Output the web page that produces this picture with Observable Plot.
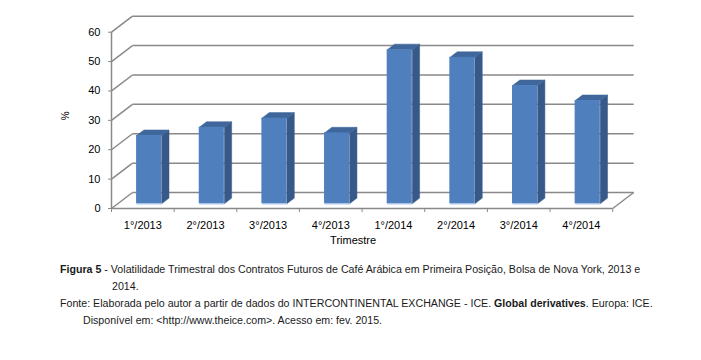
<!DOCTYPE html>
<html><head><meta charset="utf-8">
<script src="https://cdn.jsdelivr.net/npm/d3@7"></script>
<script src="https://cdn.jsdelivr.net/npm/@observablehq/plot@0.6"></script>
<style>
body{margin:0;background:#fff;}
#wrap{position:relative;width:701px;height:360px;overflow:hidden;}
.cap{position:absolute;font-family:"Liberation Sans",Arial,sans-serif;font-size:10.65px;line-height:14px;color:#1a1a1a;white-space:nowrap;}
</style>
</head><body>
<div id="wrap"><div id="chart"></div><div id="caption"></div></div>
<script>
// ---- data ----
const categories = ["1°/2013","2°/2013","3°/2013","4°/2013","1°/2014","2°/2014","3°/2014","4°/2014"];
const values = [23.2, 26.0, 29.1, 24.1, 52.4, 49.8, 40.2, 35.1];
const yTicks = [0, 10, 20, 30, 40, 50, 60];
const yLabel = "%";
const xLabel = "Trimestre";
const captionLines = [
  '<b>Figura 5</b> - Volatilidade Trimestral dos Contratos Futuros de Café Arábica em Primeira Posição, Bolsa de Nova York, 2013 e',
  '2014.',
  'Fonte: Elaborada pelo autor a partir de dados do INTERCONTINENTAL EXCHANGE - ICE. <b>Global derivatives</b>. Europa: ICE.',
  'Disponível em: &lt;http://www.theice.com&gt;. Acesso em: fev. 2015.'
];

// ---- 3D geometry (in scale units) ----
const n = categories.length;
const DX = 0.335, DY = 5.44;      // full depth offset
const dz = 0.3, bd = 0.35;         // bar depth position and thickness
const gridColor = "#898989";
const frontColor = "#4f7fbc", sideColor = "#37598a", topColor = "#3f679b";

const bars = values.map((v, i) => {
  const x1 = i + 0.3 + dz * DX, x2 = i + 0.7 + dz * DX;
  const y0 = dz * DY, y1 = v + dz * DY;
  return {i, v, x1, x2, y0, y1};
});
const sidePts = bars.flatMap(b => [
  {id: b.i, x: b.x2, y: b.y0},
  {id: b.i, x: b.x2 + bd * DX, y: b.y0 + bd * DY},
  {id: b.i, x: b.x2 + bd * DX, y: b.y1 + bd * DY},
  {id: b.i, x: b.x2, y: b.y1}
]);
const topPts = bars.flatMap(b => [
  {id: b.i, x: b.x1, y: b.y1},
  {id: b.i, x: b.x1 + bd * DX, y: b.y1 + bd * DY},
  {id: b.i, x: b.x2 + bd * DX, y: b.y1 + bd * DY},
  {id: b.i, x: b.x2, y: b.y1}
]);

const chart = Plot.plot({
  width: 701, height: 260,
  marginLeft: 111, marginRight: 88.8, marginTop: 31.7, marginBottom: 52,
  x: {domain: [0, n], axis: null},
  y: {domain: [0, 60], axis: null},
  style: {fontFamily: "Liberation Sans, Arial, sans-serif", fontSize: "11px", color: "#000", background: "#fff"},
  marks: [
    Plot.link(yTicks, {x1: 0, y1: d => d, x2: DX, y2: d => d + DY, stroke: gridColor, strokeWidth: 1.5}),
    Plot.link(yTicks, {x1: DX, y1: d => d + DY, x2: n + DX, y2: d => d + DY, stroke: gridColor, strokeWidth: 1.5}),
    Plot.link([0], {x1: n, y1: 0, x2: n + DX, y2: DY, stroke: gridColor, strokeWidth: 1.5}),
    Plot.ruleY([0], {x1: 0, x2: n, stroke: gridColor, strokeWidth: 1.5}),
    Plot.ruleX([0], {y1: 0, y2: 60, stroke: gridColor, strokeWidth: 1.5}),
    Plot.axisY({ticks: yTicks, tickSize: 3, tickPadding: 8, stroke: gridColor, fontSize: 11}),
    Plot.axisX({ticks: d3.range(n + 1), tickSize: 4, tickFormat: () => "", stroke: gridColor}),
    Plot.line(sidePts, {x: "x", y: "y", z: "id", curve: "linear-closed", fill: sideColor, stroke: sideColor, strokeWidth: 0.5}),
    Plot.line(topPts, {x: "x", y: "y", z: "id", curve: "linear-closed", fill: topColor, stroke: topColor, strokeWidth: 0.5}),
    Plot.rect(bars, {x1: "x1", x2: "x2", y1: "y0", y2: "y1", fill: frontColor}),
    Plot.link(bars, {x1: "x1", x2: "x2", y1: "y0", y2: "y0", stroke: "#a9c4e8", strokeWidth: 1.5}),
    Plot.text(categories, {x: (d, i) => i + 0.5, y: 0, dy: 17, text: d => d, fontSize: 11, fill: "#000"}),
    Plot.text([xLabel], {frameAnchor: "bottom", dx: -9, dy: 35, fontSize: 11, fill: "#000"}),
    Plot.text([yLabel], {frameAnchor: "left", dx: -46, rotate: -90, fontSize: 10, fill: "#000"})
  ]
});
document.getElementById("chart").appendChild(chart);

// ---- caption ----
const capPos = [[60, 269.3], [112, 286], [60, 303], [83, 319.5]];
const capEl = document.getElementById("caption");
captionLines.forEach((t, i) => {
  const d = document.createElement("div");
  d.className = "cap";
  d.style.left = capPos[i][0] + "px";
  d.style.top = (capPos[i][1] - 7) + "px";
  d.innerHTML = t;
  capEl.appendChild(d);
});
</script>
</body></html>
